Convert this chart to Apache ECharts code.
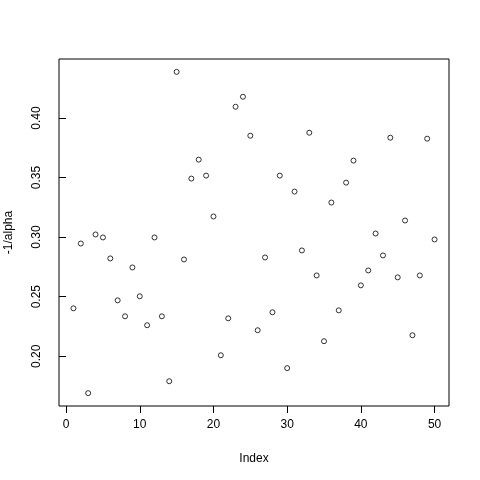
<!DOCTYPE html>
<html><head><meta charset="utf-8">
<script src="https://cdn.jsdelivr.net/npm/echarts@6/dist/echarts.min.js"></script>
<style>html,body{margin:0;padding:0;background:#fff}#c{width:480px;height:480px}</style>
</head><body><div id="c"></div>
<script>
const index = [];
for (let i = 1; i <= 50; i++) index.push(i);
const values = [
 0.2402, 0.2946, 0.1690, 0.3022, 0.2997, 0.2821, 0.2469, 0.2335, 0.2745, 0.2503,
 0.2260, 0.2997, 0.2335, 0.1790, 0.4387, 0.2812, 0.3491, 0.3650, 0.3516, 0.3173,
 0.2008, 0.2318, 0.4094, 0.4178, 0.3851, 0.2218, 0.2829, 0.2369, 0.3516, 0.1900,
 0.3382, 0.2888, 0.3876, 0.2678, 0.2126, 0.3290, 0.2385, 0.3457, 0.3642, 0.2595,
 0.2720, 0.3030, 0.2846, 0.3834, 0.2662, 0.3139, 0.2176, 0.2678, 0.3826, 0.2980
];
const xTicks = [0, 10, 20, 30, 40, 50];
const yTicks = [0.20, 0.25, 0.30, 0.35, 0.40];
const xLabel = 'Index';
const yLabel = '-1/alpha';

const data = index.map((x, i) => [x, values[i]]);
const ymin = Math.min(...values), ymax = Math.max(...values);
const yr = ymax - ymin;
const font = 'Liberation Sans, Arial, sans-serif';

const chart = echarts.init(document.getElementById('c'), null, {renderer: 'canvas'});
chart.setOption({
  animation: false,
  backgroundColor: '#fff',
  grid: {left: 59, right: 31, top: 59, bottom: 74, outerBoundsMode: 'none', containLabel: false,
         show: true, borderColor: '#000', borderWidth: 1, backgroundColor: 'transparent'},
  xAxis: {
    type: 'value', min: 1 - 0.04 * 49, max: 50 + 0.04 * 49,
    splitLine: {show: false},
    axisLine: {show: false},
    axisTick: {show: true, inside: false, length: 7, lineStyle: {color: '#000'}, customValues: xTicks},
    axisLabel: {show: true, margin: 13, color: '#000', fontSize: 12, fontFamily: font, customValues: xTicks, formatter: v => String(v)},
    name: xLabel, nameLocation: 'middle', nameGap: 47,
    nameTextStyle: {color: '#000', fontSize: 12, fontFamily: font}
  },
  yAxis: {
    type: 'value', min: ymin - 0.04 * yr, max: ymax + 0.04 * yr,
    splitLine: {show: false},
    axisLine: {show: false},
    axisTick: {show: true, inside: false, length: 7, lineStyle: {color: '#000'}, customValues: yTicks},
    axisLabel: {show: true, margin: 16, rotate: 90, color: '#000', fontSize: 12, fontFamily: font, customValues: yTicks, formatter: v => v.toFixed(2)},
    name: yLabel, nameLocation: 'middle', nameGap: 44, nameRotate: 90,
    nameTextStyle: {color: '#000', fontSize: 12, fontFamily: font}
  },
  series: [{
    type: 'scatter', data: data, symbol: 'circle', symbolSize: 5,
    itemStyle: {color: 'transparent', borderColor: '#000', borderWidth: 1},
    emphasis: {disabled: true}
  }]
});
</script></body></html>
